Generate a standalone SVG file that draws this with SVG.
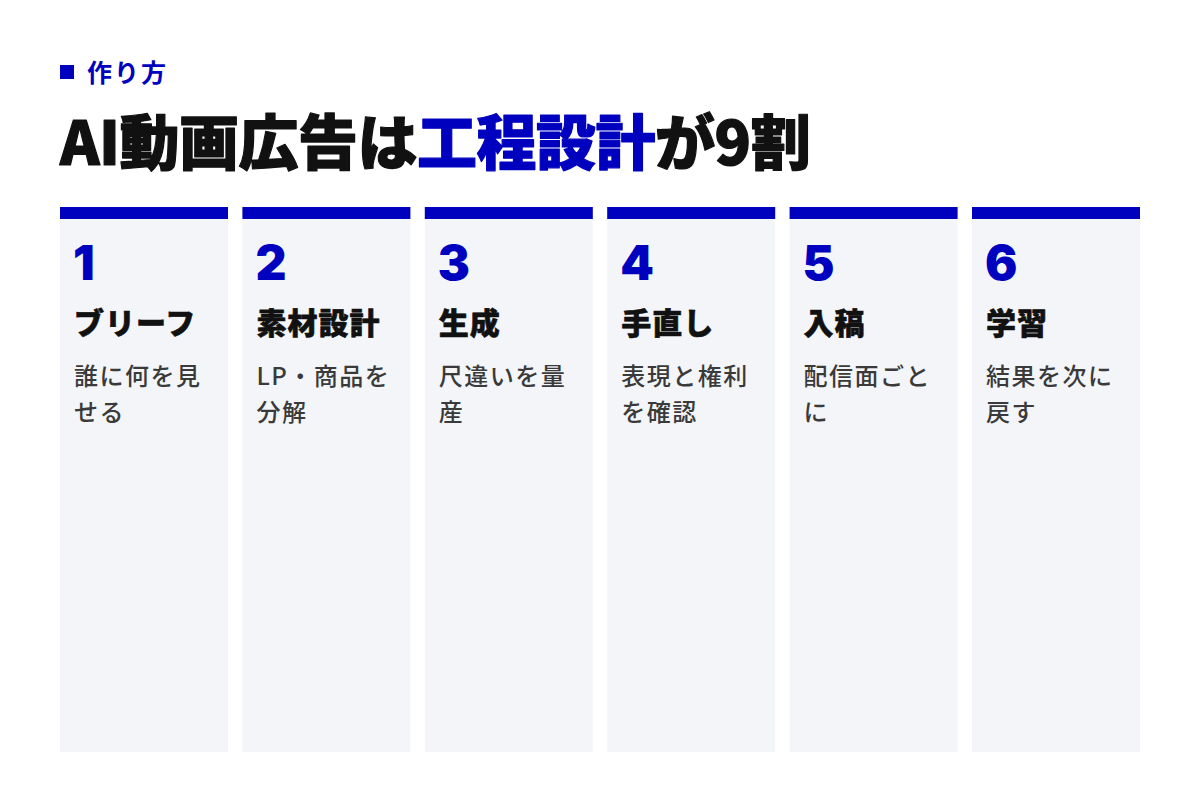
<svg xmlns="http://www.w3.org/2000/svg" width="1200" height="800" viewBox="0 0 1200 800">
<style>
.bg{fill:#ffffff}
.col{fill:#F4F5F9}
.bar{fill:#0000BF}
.kicker{font-family:"Noto Sans CJK JP",sans-serif;font-weight:700;font-size:25px;fill:#0000BF;letter-spacing:2px}
.title{font-family:"Noto Sans CJK JP",sans-serif;font-weight:900;font-size:60px;fill:#111111;stroke:#111111;stroke-width:1.2px;stroke-linejoin:round;letter-spacing:-0.5px}
.accent{fill:#0000BF;stroke:#0000BF}
.num{font-family:"Inter","Noto Sans CJK JP",sans-serif;font-weight:900;font-size:48px;fill:#0000BF}
.head{font-family:"Noto Sans CJK JP",sans-serif;font-weight:900;font-size:30px;fill:#111111;stroke:#111111;stroke-width:0.6px;stroke-linejoin:round;letter-spacing:1px}
.body{font-family:"Noto Sans CJK JP",sans-serif;font-weight:500;font-size:24px;fill:#3A3A3A;letter-spacing:1.5px}
</style>
<rect class="bg" x="0" y="0" width="1200" height="800"/>
<g id="header">
<rect class="bar" x="60" y="65" width="14" height="14"/>
<text class="kicker" x="87" y="82">作り方</text>
<text class="title" x="60" y="165">AI動画広告は<tspan class="accent">工程設計</tspan>が9割</text>
</g>
<g id="connectors"></g>
<g id="step1">
<rect class="col" x="60" y="207" width="168" height="545"/>
<rect class="bar" x="60" y="207" width="168" height="12"/>
<text class="num" x="73" y="280">1</text>
<text class="head" x="74" y="334">ブリーフ</text>
<text class="body" x="74" y="385">誰に何を見</text>
<text class="body" x="74" y="421">せる</text>
</g>
<g id="step2">
<rect class="col" x="242.4" y="207" width="168" height="545"/>
<rect class="bar" x="242.4" y="207" width="168" height="12"/>
<text class="num" x="255.4" y="280">2</text>
<text class="head" x="256.4" y="334">素材設計</text>
<text class="body" x="256.4" y="385">LP・商品を</text>
<text class="body" x="256.4" y="421">分解</text>
</g>
<g id="step3">
<rect class="col" x="424.8" y="207" width="168" height="545"/>
<rect class="bar" x="424.8" y="207" width="168" height="12"/>
<text class="num" x="437.8" y="280">3</text>
<text class="head" x="438.8" y="334">生成</text>
<text class="body" x="438.8" y="385">尺違いを量</text>
<text class="body" x="438.8" y="421">産</text>
</g>
<g id="step4">
<rect class="col" x="607.2" y="207" width="168" height="545"/>
<rect class="bar" x="607.2" y="207" width="168" height="12"/>
<text class="num" x="620.2" y="280">4</text>
<text class="head" x="621.2" y="334">手直し</text>
<text class="body" x="621.2" y="385">表現と権利</text>
<text class="body" x="621.2" y="421">を確認</text>
</g>
<g id="step5">
<rect class="col" x="789.6" y="207" width="168" height="545"/>
<rect class="bar" x="789.6" y="207" width="168" height="12"/>
<text class="num" x="802.6" y="280">5</text>
<text class="head" x="803.6" y="334">入稿</text>
<text class="body" x="803.6" y="385">配信面ごと</text>
<text class="body" x="803.6" y="421">に</text>
</g>
<g id="step6">
<rect class="col" x="972" y="207" width="168" height="545"/>
<rect class="bar" x="972" y="207" width="168" height="12"/>
<text class="num" x="985" y="280">6</text>
<text class="head" x="986" y="334">学習</text>
<text class="body" x="986" y="385">結果を次に</text>
<text class="body" x="986" y="421">戻す</text>
</g>
</svg>
